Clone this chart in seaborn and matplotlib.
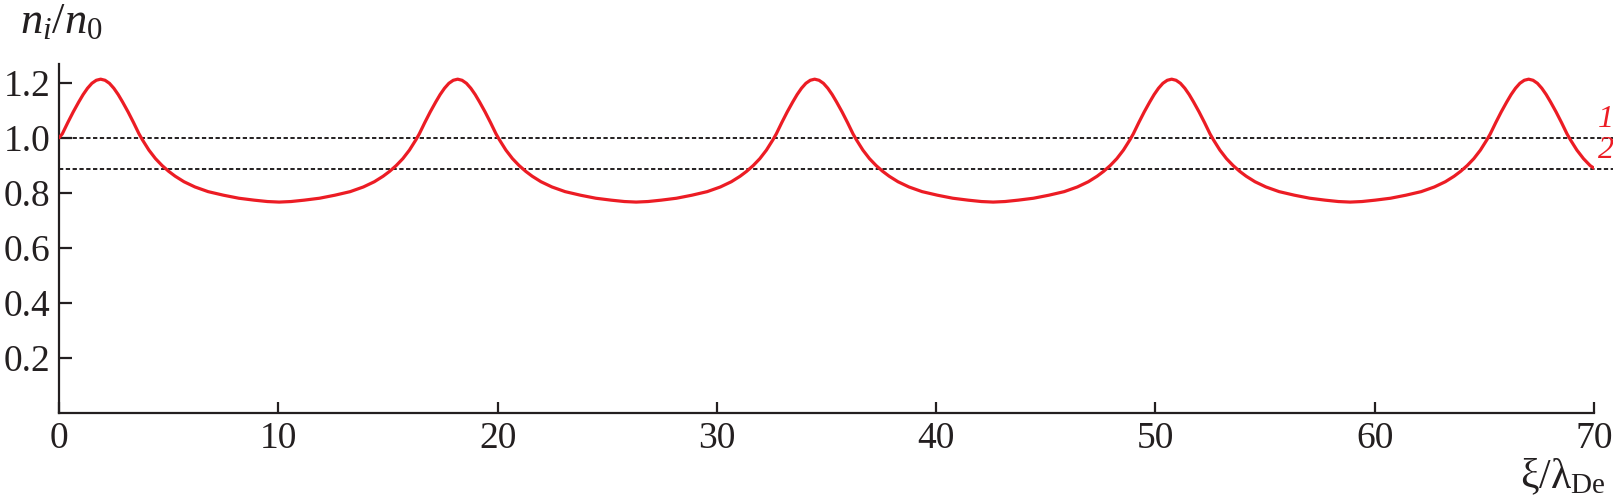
import matplotlib
matplotlib.use('Agg')
import matplotlib.pyplot as plt
import seaborn as sns
import pandas as pd

# perfil de densidade ionica (n_i/n_0 em funcao de xi/lambda_De)
xi = [0.00, 0.15, 0.40, 0.65, 0.90, 1.10, 1.30, 1.50, 1.70, 1.90,
      2.10, 2.30, 2.50, 2.70, 2.90, 3.15, 3.40, 3.65, 3.80, 4.10, 4.40, 4.70, 5.00, 5.30, 5.70, 6.20, 6.80, 7.50,
      8.20, 8.90, 9.50, 10.04,
      10.58, 11.18, 11.88, 12.58, 13.28, 13.88, 14.38, 14.78, 15.08, 15.38, 15.68, 15.98, 16.28, 16.43, 16.68,
      16.93, 17.18, 17.38, 17.58, 17.78, 17.98, 18.18,
      18.38, 18.58, 18.78, 18.98, 19.18, 19.43, 19.68, 19.93, 20.08, 20.38, 20.68, 20.98, 21.28, 21.58, 21.98,
      22.48, 23.08, 23.78, 24.48, 25.18, 25.78, 26.32,
      26.86, 27.46, 28.16, 28.86, 29.56, 30.16, 30.66, 31.06, 31.36, 31.66, 31.96, 32.26, 32.56, 32.71, 32.96,
      33.21, 33.46, 33.66, 33.86, 34.06, 34.26, 34.46,
      34.66, 34.86, 35.06, 35.26, 35.46, 35.71, 35.96, 36.21, 36.36, 36.66, 36.96, 37.26, 37.56, 37.86, 38.26,
      38.76, 39.36, 40.06, 40.76, 41.46, 42.06, 42.60,
      43.14, 43.74, 44.44, 45.14, 45.84, 46.44, 46.94, 47.34, 47.64, 47.94, 48.24, 48.54, 48.84, 48.99, 49.24,
      49.49, 49.74, 49.94, 50.14, 50.34, 50.54, 50.74,
      50.94, 51.14, 51.34, 51.54, 51.74, 51.99, 52.24, 52.49, 52.64, 52.94, 53.24, 53.54, 53.84, 54.14, 54.54,
      55.04, 55.64, 56.34, 57.04, 57.74, 58.34, 58.88,
      59.42, 60.02, 60.72, 61.42, 62.12, 62.72, 63.22, 63.62, 63.92, 64.22, 64.52, 64.82, 65.12, 65.27, 65.52,
      65.77, 66.02, 66.22, 66.42, 66.62, 66.82, 67.02,
      67.22, 67.42, 67.62, 67.82, 68.02, 68.27, 68.52, 68.77, 68.92, 69.22, 69.52, 69.82, 70.00]
ni = [1.000, 1.014, 1.055, 1.094, 1.130, 1.157, 1.180, 1.198, 1.209, 1.213,
      1.209, 1.198, 1.180, 1.157, 1.130, 1.094, 1.055, 1.014, 0.993, 0.955, 0.924, 0.899, 0.878, 0.860, 0.840,
      0.821, 0.804, 0.791, 0.780, 0.773, 0.768, 0.766,
      0.768, 0.773, 0.780, 0.791, 0.804, 0.821, 0.840, 0.860, 0.878, 0.899, 0.924, 0.955, 0.993, 1.014, 1.055,
      1.094, 1.130, 1.157, 1.180, 1.198, 1.209, 1.213,
      1.209, 1.198, 1.180, 1.157, 1.130, 1.094, 1.055, 1.014, 0.993, 0.955, 0.924, 0.899, 0.878, 0.860, 0.840,
      0.821, 0.804, 0.791, 0.780, 0.773, 0.768, 0.766,
      0.768, 0.773, 0.780, 0.791, 0.804, 0.821, 0.840, 0.860, 0.878, 0.899, 0.924, 0.955, 0.993, 1.014, 1.055,
      1.094, 1.130, 1.157, 1.180, 1.198, 1.209, 1.213,
      1.209, 1.198, 1.180, 1.157, 1.130, 1.094, 1.055, 1.014, 0.993, 0.955, 0.924, 0.899, 0.878, 0.860, 0.840,
      0.821, 0.804, 0.791, 0.780, 0.773, 0.768, 0.766,
      0.768, 0.773, 0.780, 0.791, 0.804, 0.821, 0.840, 0.860, 0.878, 0.899, 0.924, 0.955, 0.993, 1.014, 1.055,
      1.094, 1.130, 1.157, 1.180, 1.198, 1.209, 1.213,
      1.209, 1.198, 1.180, 1.157, 1.130, 1.094, 1.055, 1.014, 0.993, 0.955, 0.924, 0.899, 0.878, 0.860, 0.840,
      0.821, 0.804, 0.791, 0.780, 0.773, 0.768, 0.766,
      0.768, 0.773, 0.780, 0.791, 0.804, 0.821, 0.840, 0.860, 0.878, 0.899, 0.924, 0.955, 0.993, 1.014, 1.055,
      1.094, 1.130, 1.157, 1.180, 1.198, 1.209, 1.213,
      1.209, 1.198, 1.180, 1.157, 1.130, 1.094, 1.055, 1.014, 0.993, 0.955, 0.924, 0.899, 0.889]

# niveis de referencia (linhas 1 e 2)
niveis = [1.0, 0.886]
rotulos_niveis = ['1', '2']

x_ticks = [0, 10, 20, 30, 40, 50, 60, 70]
y_ticks = [0.2, 0.4, 0.6, 0.8, 1.0, 1.2]

vermelho = '#ec1c24'
preto = '#231f20'

sns.set_style('ticks')
plt.rcParams['font.family'] = ['Liberation Serif', 'DejaVu Serif']
plt.rcParams['mathtext.fontset'] = 'custom'
plt.rcParams['mathtext.rm'] = 'Liberation Serif'
plt.rcParams['mathtext.it'] = 'Liberation Serif:italic'

fig = plt.figure(figsize=(16.13, 5.03), dpi=100)
ax = fig.add_axes([59 / 1613, 1 - 412.7 / 503, (1594 - 59) / 1613, (412.7 - 63.5) / 503])

df = pd.DataFrame({'xi': xi, 'ni': ni})
sns.lineplot(data=df, x='xi', y='ni', ax=ax, color=vermelho, linewidth=2.3,
             estimator=None, sort=False, zorder=3)

# linhas tracejadas vao ate a borda da figura
for nivel in niveis:
    ax.hlines(nivel, 0, 70.9, colors=preto, linestyles=(0, (2.2, 1.3)),
              linewidth=1.4, clip_on=False, zorder=2)

for nivel, rot in zip(niveis, rotulos_niveis):
    ax.annotate(rot, xy=(70, nivel), xytext=(3, 3), textcoords='offset points',
                ha='left', va='bottom', color=vermelho, fontsize=23,
                fontstyle='italic', annotation_clip=False)

ax.set_xlim(0, 70)
ax.set_ylim(0, 1.27)
ax.set_xticks(x_ticks)
ax.set_xticklabels([str(t) for t in x_ticks])
ax.set_yticks(y_ticks)
ax.set_yticklabels([f'{t:.1f}' for t in y_ticks])
ax.set_xlabel('')
ax.set_ylabel('')

sns.despine(ax=ax)
for lado in ['left', 'bottom']:
    ax.spines[lado].set_linewidth(1.6)
    ax.spines[lado].set_color(preto)
ax.tick_params(axis='both', direction='in', width=1.6, colors=preto,
               labelsize=27, pad=6)
ax.tick_params(axis='y', length=9.5)
ax.tick_params(axis='x', length=8)

fig.text(20 / 1613, 1 - 33 / 503, r'$n_i/n_0$', fontsize=32, color=preto,
         ha='left', va='baseline')
fig.text(1606 / 1613, 1 - 488 / 503, r'$\mathrm{ξ/λ}_{\mathrm{De}}$', fontsize=30,
         color=preto, ha='right', va='baseline')

fig.savefig('out.png', dpi=100)
